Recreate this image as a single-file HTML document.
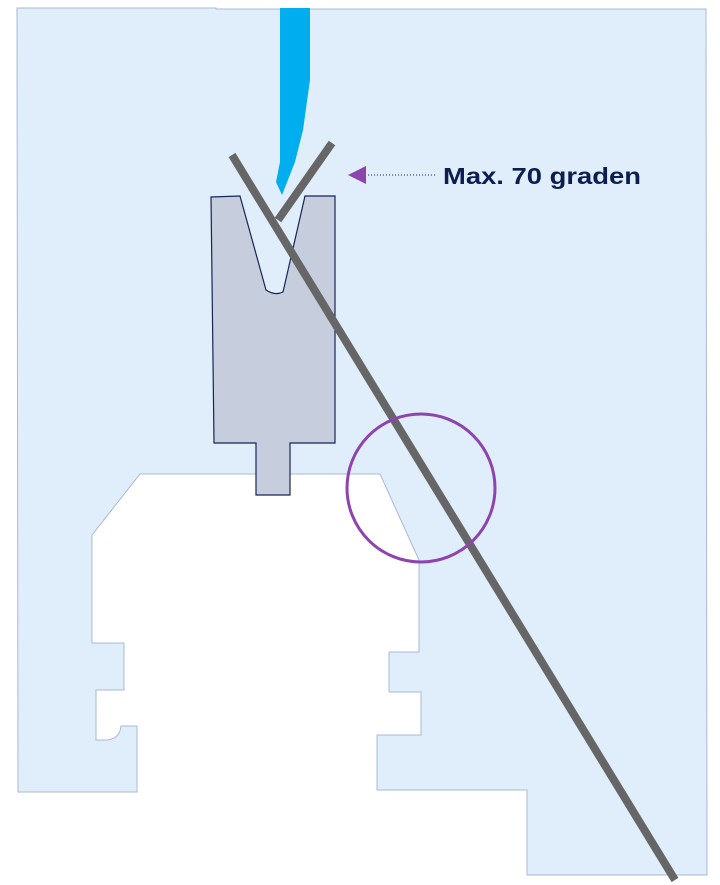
<!DOCTYPE html>
<html><head><meta charset="utf-8"><style>html,body{margin:0;padding:0;background:#fff}svg{display:block}</style></head>
<body>
<svg width="720" height="885" viewBox="0 0 720 885" xmlns="http://www.w3.org/2000/svg">
<path d="M17,8 L216,8 L216,9 L706,9 L707,875 L527,875 L527,790 L377,790 L377,735 L421,735 L421,692 L389,692 L389,652 L419,652 L419,560 L380,474 L140,474 L92,535 L92,643 L124,643 L124,690 L96,690 L96,740 L108,740 Q120,738 121,726 L137,726 L137,792 L18,792 Z" fill="#e0eefb" stroke="#a9b9d6" stroke-width="1"/>
<path d="M280,8 L310,8 L310,80 L303,130 L295,162 L282,195 L276,182 L280,162 Z" fill="#00adee"/>
<path d="M211,197 L240,196 L266,290 Q275,296 283,292 L305,196 L335,196 L335,443 L290,443 L290,495 L256,495 L256,443 L214,443 Z" fill="#c6cedd" stroke="#1a2356" stroke-width="1.2"/>
<line x1="232" y1="155" x2="675" y2="880" stroke="#666666" stroke-width="8"/>
<line x1="332" y1="143" x2="278" y2="220" stroke="#666666" stroke-width="8"/>
<circle cx="421" cy="488" r="74" fill="none" stroke="#8e44ad" stroke-width="3"/>
<polygon points="348,175 366,166 366,184" fill="#8e44ad"/>
<line x1="368" y1="175" x2="437" y2="175" stroke="#1a2356" stroke-width="1" stroke-dasharray="1,2"/>
<text x="443" y="184" font-family="Liberation Sans, sans-serif" font-weight="bold" font-size="23" fill="#0c1e4f" textLength="198" lengthAdjust="spacingAndGlyphs">Max. 70 graden</text>
</svg>
</body></html>
